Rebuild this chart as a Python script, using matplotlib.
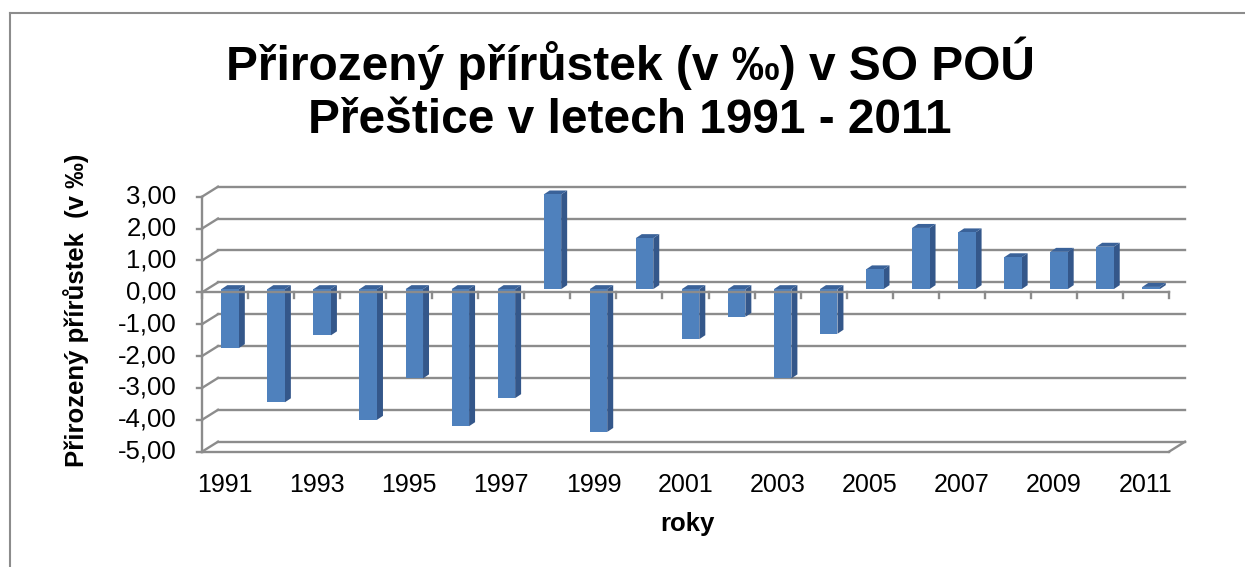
import matplotlib.pyplot as plt
from matplotlib.patches import Polygon
from matplotlib.lines import Line2D
import numpy as np

# data
years = [1991, 1992, 1993, 1994, 1995, 1996, 1997, 1998, 1999, 2000, 2001,
         2002, 2003, 2004, 2005, 2006, 2007, 2008, 2009, 2010, 2011]
values = [-1.85, -3.55, -1.45, -4.10, -2.80, -4.30, -3.42, 2.97, -4.48, 1.60, -1.57,
          -0.87, -2.80, -1.40, 0.62, 1.92, 1.78, 1.00, 1.17, 1.33, 0.07]
yticks = [3, 2, 1, 0, -1, -2, -3, -4, -5]

title = "Přirozený přírůstek (v ‰) v SO POÚ\nPřeštice v letech 1991 - 2011"
ylabel = "Přirozený přírůstek  (v ‰)"
xlabel = "roky"

plt.rcParams['font.family'] = ['Liberation Sans', 'DejaVu Sans']

W, H = 1245, 567
fig = plt.figure(figsize=(W / 100, H / 100), dpi=100)

# front plane of the 3d box, in pixels
x0, x1 = 202, 1169
ytop, ybot = 196.7, 451.7
ax = fig.add_axes([x0 / W, 1 - ybot / H, (x1 - x0) / W, (ybot - ytop) / H])
n = len(years)
ax.set_xlim(0, n)
ax.set_ylim(-5, 3)
ax.axis('off')

grid = '#8c8c8c'
front = '#4f81bd'
side = '#34578a'
topc = '#3a6299'

# depth offsets in data units
ddx, ddy = 16 / 46.05, 10 / 31.9
# bar placement within the depth
bx, by = 0.11, 0.10
bw = 0.38
sdx, sdy = 0.13, 0.125

# back wall gridlines and left wall diagonals
for v in yticks:
    ax.add_line(Line2D([ddx, n + ddx], [v + ddy, v + ddy], color=grid, lw=1.7,
                       clip_on=False, zorder=1))
    ax.add_line(Line2D([0, ddx], [v, v + ddy], color=grid, lw=1.7,
                       clip_on=False, zorder=1))
# floor
ax.add_line(Line2D([0, n], [-5, -5], color=grid, lw=1.7, clip_on=False, zorder=1))
ax.add_line(Line2D([n, n + ddx], [-5, -5 + ddy], color=grid, lw=1.7,
                   clip_on=False, zorder=1))

# bars
for i, v in enumerate(values):
    xl = i + 0.5 - bw / 2 + bx
    xr = xl + bw
    lo = min(0, v) + by
    hi = max(0, v) + by
    ax.add_patch(Polygon([[xr, lo], [xr + sdx, lo + sdy], [xr + sdx, hi + sdy], [xr, hi]],
                         closed=True, fc=side, ec='none', zorder=2, clip_on=False))
    ax.add_patch(Polygon([[xl, hi], [xr, hi], [xr + sdx, hi + sdy], [xl + sdx, hi + sdy]],
                         closed=True, fc=topc, ec='none', zorder=2, clip_on=False))
    ax.bar(i + 0.5 + bx, v, width=bw, bottom=by, color=front, edgecolor='none',
           zorder=2, clip_on=False)

# front axes
ax.add_line(Line2D([0, n], [0, 0], color=grid, lw=1.7, clip_on=False, zorder=3))
ax.add_line(Line2D([0, 0], [-5, 3], color=grid, lw=1.7, clip_on=False, zorder=3))
for i in range(n + 1):
    ax.add_line(Line2D([i, i], [0, -0.19], color=grid, lw=1.7, clip_on=False, zorder=3))
for v in yticks:
    ax.add_line(Line2D([0, -0.11], [v, v], color=grid, lw=1.7, clip_on=False, zorder=3))
    ax.text(-0.55, v, ('%.2f' % v).replace('.', ','), ha='right', va='center',
            fontsize=18.5)

for i, yr in enumerate(years):
    if i % 2 == 0:
        ax.text(i + 0.5, -6.05, str(yr), ha='center', va='center', fontsize=18)

fig.text(687 / W, 1 - 524 / H, xlabel, ha='center', va='center', fontsize=18.5,
         fontweight='bold')
fig.text(76 / W, 1 - 310 / H, ylabel, ha='center', va='center', fontsize=18.5,
         fontweight='bold', rotation=90)
fig.text(630 / W, 1 - 90 / H, title, ha='center', va='center', fontsize=34.5,
         fontweight='bold', linespacing=1.22)

# outer chart border
fig.add_artist(Line2D([10 / W, 10 / W], [0, 1 - 13 / H], color='#8c8c8c', lw=1.5))
fig.add_artist(Line2D([10 / W, 1], [1 - 13 / H, 1 - 13 / H], color='#8c8c8c', lw=1.5))

plt.savefig('out.png', dpi=100)
